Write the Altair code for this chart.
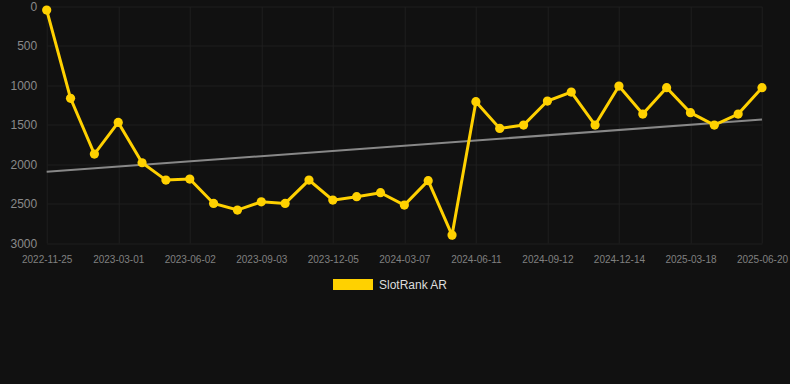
import altair as alt
import pandas as pd

dates = [
    "2022-11-25", "2022-12-27", "2023-01-28", "2023-03-01", "2023-04-01",
    "2023-05-02", "2023-06-02", "2023-07-03", "2023-08-03", "2023-09-03",
    "2023-10-04", "2023-11-04", "2023-12-05", "2024-01-05", "2024-02-05",
    "2024-03-07", "2024-04-08", "2024-05-10", "2024-06-11", "2024-07-12",
    "2024-08-12", "2024-09-12", "2024-10-13", "2024-11-13", "2024-12-14",
    "2025-01-14", "2025-02-15", "2025-03-18", "2025-04-18", "2025-05-20",
    "2025-06-20",
]
ranks = [
    45, 1165, 1872, 1470, 1982, 2202, 2189, 2498, 2582, 2477,
    2498, 2202, 2456, 2413, 2362, 2519, 2210, 2900, 1208, 1546,
    1504, 1199, 1085, 1504, 1009, 1364, 1030, 1347, 1504, 1364,
    1030,
]
series_name = "SlotRank AR"
y_ticks = [0, 500, 1000, 1500, 2000, 2500, 3000]
x_tick_idx = list(range(0, len(dates), 3))

df = pd.DataFrame({
    "idx": list(range(len(dates))),
    "date": dates,
    "rank": ranks,
    "series": [series_name] * len(dates),
})

label_expr = "[" + ",".join(f"'{d}'" for d in dates) + "][datum.value]"

gold = "#FFD100"
grid = "#1f1f1f"

x_enc = alt.X(
    "idx:Q",
    scale=alt.Scale(domain=[0, len(dates) - 1], nice=False, zero=False),
    axis=alt.Axis(
        values=x_tick_idx, labelExpr=label_expr, title=None,
        domain=False, ticks=False, labelPadding=11,
        labelFontSize=10, labelColor="#808080", labelFont="Liberation Sans",
        gridColor=grid, gridWidth=1, labelFlush=False,
    ),
)
y_enc = alt.Y(
    "rank:Q",
    scale=alt.Scale(domain=[0, 3000], reverse=True, nice=False),
    axis=alt.Axis(
        values=y_ticks, format="d", title=None, domain=False, ticks=False,
        labelPadding=10, labelFontSize=12, labelColor="#8a8a8a",
        labelFont="Liberation Sans", gridColor=grid, gridWidth=1,
    ),
)

base = alt.Chart(df)

trend = base.transform_regression("idx", "rank").mark_line(
    color="#888888", strokeWidth=2
).encode(x=x_enc, y=y_enc)

line = base.mark_line(color=gold, strokeWidth=3).encode(x=x_enc, y=y_enc)

points = base.mark_circle(size=85, opacity=1).encode(
    x=x_enc,
    y=y_enc,
    color=alt.Color(
        "series:N",
        scale=alt.Scale(domain=[series_name], range=[gold]),
        legend=alt.Legend(
            title=None, orient="none", legendX=286.3, legendY=258,
            symbolType="M-1,-0.275H1V0.275H-1Z", symbolSize=1600,
            symbolStrokeWidth=0, symbolOpacity=1,
            labelFontSize=12, labelColor="#dddddd", labelFont="Liberation Sans",
            labelOffset=6, padding=0, offset=0,
        ),
    ),
)

chart = alt.layer(trend, line, points).properties(
    width=715.3, height=236.5,
    background="#111111",
    padding={"left": 46.7, "top": 6.5, "right": 28, "bottom": 141},
    autosize=alt.AutoSizeParams(type="none"),
).configure_view(stroke=None)

chart.save("out.html", embed_options={"renderer": "svg", "actions": False})
